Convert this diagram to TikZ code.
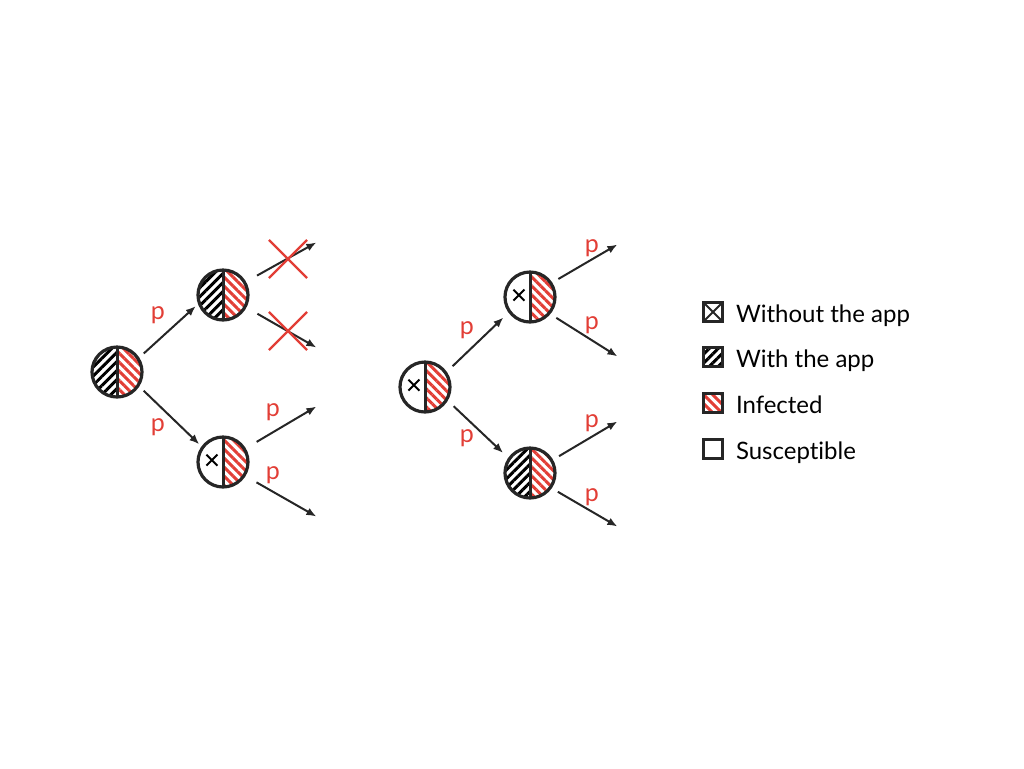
\documentclass[tikz,border=0pt]{standalone}
\usepackage{fontspec}
\setmainfont{Lato}[Ligatures=NoCommon]
\usetikzlibrary{arrows.meta,patterns.meta,shapes.misc,positioning}
\definecolor{infred}{RGB}{226,62,54}
\colorlet{edgeblack}{black!85}
\tikzset{
	hatchapp/.style={pattern={Lines[angle=45,distance=3.2pt,line width=1.5pt]},pattern color=black},
	hatchinf/.style={pattern={Lines[angle=-45,distance=3.2pt,line width=1.5pt]},pattern color=infred},
	person/.style={circle,draw=edgeblack,line width=1.6pt,minimum size=25pt,inner sep=0pt},
	withapp/.style={person,path picture={
		\fill[hatchapp] (path picture bounding box.south west) rectangle (path picture bounding box.north);
		\fill[hatchinf] (path picture bounding box.south) rectangle (path picture bounding box.north east);
		\draw[edgeblack,line width=1.5pt] (path picture bounding box.south) -- (path picture bounding box.north);}},
	noapp/.style={person,path picture={
		\fill[hatchinf] (path picture bounding box.south) rectangle (path picture bounding box.north east);
		\draw[edgeblack,line width=1.5pt] (path picture bounding box.south) -- (path picture bounding box.north);
		\draw[black,line width=1pt]
		([shift={(-8.3pt,-1.8pt)}]path picture bounding box.center) --++ (5.5pt,5.5pt)
		([shift={(-8.3pt,3.7pt)}]path picture bounding box.center) --++ (5.5pt,-5.5pt);}},
	keybox/.style={rectangle,draw=edgeblack,line width=1.1pt,minimum size=9.5pt,inner sep=0pt},
	keytext/.style={inner sep=0pt,font=\fontsize{12}{14}\selectfont},
}
\begin{document}
\begin{tikzpicture}[x=0.5pt,y=-0.5pt,
	flow/.style={-{Latex[length=5pt,width=4pt]},line width=1pt,draw=edgeblack,shorten <=3pt,shorten >=1.5pt},
	plabel/.style={text=infred,inner sep=0pt,font=\fontsize{12.5}{14}\selectfont},
	blocked/.style={cross out,draw=infred,line width=1.1pt,minimum size=18pt,inner sep=0pt}]
	
	\useasboundingbox (0,0) rectangle (1024,768);
	
	% LEFT TREE
	\node[withapp] (L0) at (117,372) {};
	\node[withapp] (L1) at (223,295) {};
	\node[noapp]   (L2) at (223,462) {};
	\coordinate (La) at (319,241);
	\coordinate (Lb) at (319,349);
	\coordinate (Lc) at (319,405);
	\coordinate (Ld) at (319,518);
	
	\draw[flow] (L0.33) -- (L1.200);
	\draw[flow] (L0.-33) -- (L2.144);
	\draw[flow,shorten <=6.3pt] (L1.30) -- (La);
	\draw[flow,shorten <=6.3pt] (L1.-28) -- (Lb);
	\draw[flow,shorten <=6.3pt] (L2.31) -- (Lc);
	\draw[flow,shorten <=6.3pt] (L2.-32) -- (Ld);
	
	\node[blocked] (Xa) at (288,259) {};
	\node[blocked] (Xb) at (288,331) {};
	
	\node[plabel] (p1) at (158,315) {p};
	\node[plabel] (p2) at (158,427) {p};
	\node[plabel] (p3) at (273,412) {p};
	\node[plabel] (p4) at (273,475) {p};
	
	% RIGHT TREE
	\node[noapp]   (R0) at (425,387) {};
	\node[noapp]   (R1) at (530,297) {};
	\node[withapp] (R2) at (530,473) {};
	\coordinate (Ra) at (620,243);
	\coordinate (Rb) at (620,358);
	\coordinate (Rc) at (620,420);
	\coordinate (Rd) at (620,528);
	
	\draw[flow,shorten <=4pt,shorten >=3.5pt] (R0.35) -- (R1.216);
	\draw[flow,shorten <=4pt,shorten >=3.5pt] (R0.-31) -- (R2.145);
	\draw[flow,shorten <=3.5pt] (R1.33) -- (Ra);
	\draw[flow,shorten <=3.5pt] (R1.-40) -- (Rb);
	\draw[flow,shorten <=3.5pt] (R2.30) -- (Rc);
	\draw[flow,shorten <=3.5pt] (R2.-35) -- (Rd);
	
	\node[plabel] (p5) at (467,330) {p};
	\node[plabel] (p6) at (467,438) {p};
	\node[plabel] (p7) at (592,248) {p};
	\node[plabel] (p8) at (592,325) {p};
	\node[plabel] (p9) at (592,423) {p};
	\node[plabel] (p10) at (592,497) {p};
	
	% LEGEND
	\node[keybox,path picture={
		\draw[edgeblack,line width=0.9pt] (path picture bounding box.south west) -- (path picture bounding box.north east)
		(path picture bounding box.north west) -- (path picture bounding box.south east);}] (K1) at (713,312) {};
	\node[keybox,hatchapp] (K2) at (713,357) {};
	\node[keybox,hatchinf] (K3) at (713,403) {};
	\node[keybox] (K4) at (713,449) {};
	\node[keytext,anchor=base west] (T1) at ([xshift=6pt]K1.south east) {Without the app};
	\node[keytext,anchor=base west] (T2) at ([xshift=6pt]K2.south east) {With the app};
	\node[keytext,anchor=base west] (T3) at ([xshift=6pt]K3.south east) {Infected};
	\node[keytext,anchor=base west] (T4) at ([xshift=6pt]K4.south east) {Susceptible};
	
\end{tikzpicture}
\end{document}
